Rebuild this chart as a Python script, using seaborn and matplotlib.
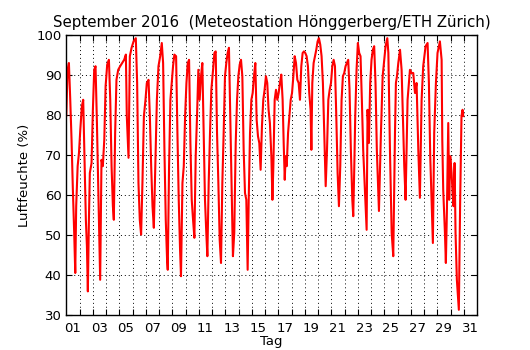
import matplotlib
matplotlib.use("Agg")
import matplotlib.pyplot as plt
import seaborn as sns
import pandas as pd

# Relative humidity, September 2016, time given as fractional day of month
tag = [
    1.00, 1.10, 1.20, 1.30, 1.40, 1.50, 1.60, 1.68, 1.75, 1.86, 1.96,
    2.06, 2.18, 2.28, 2.38, 2.48, 2.56, 2.63, 2.71, 2.78, 2.91,
    3.01, 3.11, 3.21, 3.31, 3.41, 3.51, 3.56, 3.66, 3.76, 3.87, 3.97,
    4.09, 4.22, 4.32, 4.42, 4.52, 4.59, 4.69, 4.79, 4.92,
    5.07, 5.22, 5.37, 5.50, 5.57, 5.70, 5.80, 5.93,
    6.08, 6.25, 6.35, 6.45, 6.55, 6.65, 6.75, 6.86, 6.98,
    7.08, 7.21, 7.31, 7.41, 7.51, 7.61, 7.71, 7.84, 7.96,
    8.09, 8.21, 8.31, 8.41, 8.51, 8.61, 8.66, 8.76, 8.86, 8.96,
    9.06, 9.16, 9.29, 9.39, 9.49, 9.59, 9.66, 9.77, 9.87, 9.97,
    10.07, 10.17, 10.27, 10.37, 10.47, 10.57, 10.67, 10.77, 10.87, 10.97,
    11.07, 11.17, 11.27, 11.37, 11.47, 11.57, 11.65, 11.75, 11.85, 11.95,
    12.08, 12.18, 12.28, 12.38, 12.48, 12.58, 12.68, 12.78, 12.88, 12.98,
    13.08, 13.18, 13.28, 13.38, 13.48, 13.58, 13.68, 13.79, 13.89, 13.99,
    14.09, 14.19, 14.29, 14.39, 14.49, 14.59, 14.69, 14.77, 14.87, 14.97,
    15.07, 15.17, 15.27, 15.37, 15.47, 15.57, 15.67, 15.77, 15.87, 15.97,
    16.07, 16.17, 16.27, 16.37, 16.48, 16.56, 16.63, 16.73, 16.83, 16.93,
    17.03, 17.13, 17.23, 17.33, 17.41, 17.49, 17.56, 17.64, 17.74, 17.84, 17.94,
    18.04, 18.14, 18.24, 18.34, 18.44, 18.54, 18.64, 18.74, 18.84, 18.94,
    19.04, 19.14, 19.24, 19.34, 19.44, 19.50, 19.57, 19.67, 19.77, 19.87, 19.97,
    20.07, 20.17, 20.27, 20.37, 20.47, 20.58, 20.68, 20.78, 20.88, 20.98,
    21.08, 21.18, 21.28, 21.38, 21.48, 21.58, 21.68, 21.78, 21.88, 21.98,
    22.08, 22.18, 22.28, 22.38, 22.48, 22.59, 22.66, 22.74, 22.81, 22.91,
    23.01, 23.11, 23.21, 23.31, 23.41, 23.52, 23.59, 23.67, 23.74, 23.84, 23.94,
    24.04, 24.14, 24.24, 24.34, 24.44, 24.60, 24.75, 24.88,
    25.00, 25.10, 25.23, 25.31, 25.43, 25.56, 25.68, 25.81, 25.88, 25.96,
    26.06, 26.19, 26.31, 26.44, 26.51, 26.61, 26.76, 26.94,
    27.06, 27.19, 27.32, 27.44, 27.57, 27.69, 27.82, 27.94,
    28.12, 28.27, 28.37, 28.47, 28.57, 28.67, 28.77, 28.90,
    29.02, 29.20, 29.33, 29.38, 29.45, 29.58, 29.65, 29.73, 29.83, 29.90, 29.98,
    30.08, 30.16, 30.23, 30.31, 30.38, 30.48, 30.63, 30.73, 30.83, 30.91, 30.96,
]
feuchte = [
    79.7, 91.3, 93.0, 84.0, 73.8, 61.3, 50.5, 40.5, 57.2, 67.2, 70.5,
    76.3, 82.2, 83.8, 68.8, 53.8, 47.2, 35.9, 53.8, 65.5, 68.0,
    81.3, 91.3, 92.2, 78.8, 63.0, 46.3, 38.8, 68.8, 67.2, 73.8, 87.2,
    92.6, 93.8, 83.8, 67.2, 57.2, 53.8, 75.5, 88.8, 91.3,
    92.2, 93.0, 93.8, 95.1, 79.7, 69.3, 94.7, 96.8,
    98.4, 99.2, 88.0, 63.0, 53.8, 50.1, 63.0, 79.7, 83.8,
    88.0, 88.8, 79.7, 67.2, 57.2, 51.8, 65.5, 83.8, 92.2,
    94.7, 98.0, 93.0, 71.3, 53.8, 43.8, 41.3, 67.2, 83.8, 88.0,
    92.2, 95.1, 94.7, 75.5, 58.8, 46.3, 39.7, 63.0, 67.2, 79.7,
    88.0, 93.0, 93.8, 73.0, 58.8, 53.8, 49.3, 69.7, 79.7, 91.3,
    83.8, 89.7, 93.0, 75.5, 58.8, 50.5, 44.7, 63.0, 75.5, 86.3,
    91.3, 95.5, 95.9, 75.5, 63.0, 48.8, 43.0, 63.0, 75.5, 89.7,
    93.0, 95.5, 96.8, 79.7, 63.0, 44.7, 50.5, 73.0, 83.8, 89.7,
    92.6, 93.8, 89.7, 71.3, 60.5, 58.8, 41.3, 58.8, 75.5, 83.8,
    85.5, 89.7, 93.0, 78.8, 74.7, 73.0, 66.3, 77.2, 83.8, 86.3,
    89.7, 88.0, 81.3, 78.0, 69.7, 58.8, 67.2, 83.8, 86.3, 83.8,
    85.5, 88.0, 90.1, 83.8, 73.0, 63.8, 69.7, 67.2, 75.5, 79.7, 83.8,
    85.5, 89.7, 94.7, 93.0, 88.8, 88.0, 83.8, 92.2, 95.5, 95.9,
    95.5, 94.7, 92.2, 85.5, 81.3, 71.3, 88.0, 93.0, 94.7, 96.3, 98.4,
    99.2, 97.6, 94.7, 88.0, 75.5, 62.2, 71.3, 83.8, 86.3, 88.0,
    92.2, 93.8, 92.2, 79.7, 65.5, 57.2, 67.2, 83.8, 89.7, 90.5,
    92.2, 93.0, 93.8, 86.3, 71.3, 58.8, 54.7, 67.2, 79.7, 91.3,
    98.0, 95.5, 94.7, 83.8, 71.3, 63.0, 57.2, 51.3, 81.3, 73.0, 88.0,
    93.8, 96.3, 97.2, 88.0, 71.3, 56.0, 75.5, 89.7,
    93.8, 97.2, 99.2, 95.5, 71.3, 50.5, 44.7, 75.5, 88.0, 89.7,
    93.0, 96.3, 91.3, 75.5, 67.2, 58.8, 83.8, 91.3,
    90.5, 90.5, 85.5, 88.0, 71.3, 59.3, 83.8, 92.2,
    97.2, 98.0, 88.0, 69.7, 58.8, 48.0, 75.5, 88.0,
    95.5, 98.4, 93.8, 73.8, 61.3, 50.5, 43.0, 56.3, 78.0, 58.8, 69.7,
    65.5, 60.5, 57.2, 68.0, 50.5, 38.8, 31.3, 58.8, 79.7, 81.3, 79.7,
]

label_days = list(range(1, 32, 2))
day_labels = [f"{d:02d}" for d in label_days]
y_ticks = [30, 40, 50, 60, 70, 80, 90, 100]

sns.set_theme(style="white")
plt.rcParams.update({
    "font.family": ["DejaVu Sans"],
    "axes.edgecolor": "black",
    "axes.linewidth": 1.0,
    "xtick.direction": "in",
    "ytick.direction": "in",
    "xtick.top": True,
    "ytick.right": True,
    "xtick.color": "black",
    "ytick.color": "black",
    "text.color": "black",
    "axes.labelcolor": "black",
})

fig, ax = plt.subplots(figsize=(5.3, 3.5), dpi=100)
fig.subplots_adjust(left=0.125, right=0.9, bottom=0.1, top=0.9)

df = pd.DataFrame({"Tag": tag, "Luftfeuchte": feuchte})
sns.lineplot(data=df, x="Tag", y="Luftfeuchte", color="red", linewidth=1.5,
             estimator=None, sort=False, ax=ax)

ax.set_xlim(1, 32)
ax.set_ylim(30, 100)

# one tick and grid line per day, labels centred in the day
ax.set_xticks(range(2, 32))
ax.set_xticklabels([])
ax.set_xticks([d + 0.5 for d in label_days], minor=True)
ax.set_xticklabels(day_labels, minor=True)
ax.set_yticks(y_ticks)
ax.set_yticklabels([str(v) for v in y_ticks])

ax.tick_params(which="major", length=4, width=0.8, labelsize=9.5,
               top=True, right=True, bottom=True, left=True)
ax.tick_params(axis="x", which="minor", length=0, pad=5, labelsize=9.5)

ax.grid(True, which="major", linestyle=(0, (1, 3)), color="black", linewidth=0.7)

ax.set_xlabel("Tag", fontsize=9.5, labelpad=0)
ax.set_ylabel("Luftfeuchte (%)", fontsize=9.5, labelpad=4)
ax.set_title("September 2016  (Meteostation Hönggerberg/ETH Zürich)", fontsize=10.8)

for s in ax.spines.values():
    s.set_visible(True)
    s.set_color("black")

fig.savefig("out.png", dpi=100, facecolor="white")
